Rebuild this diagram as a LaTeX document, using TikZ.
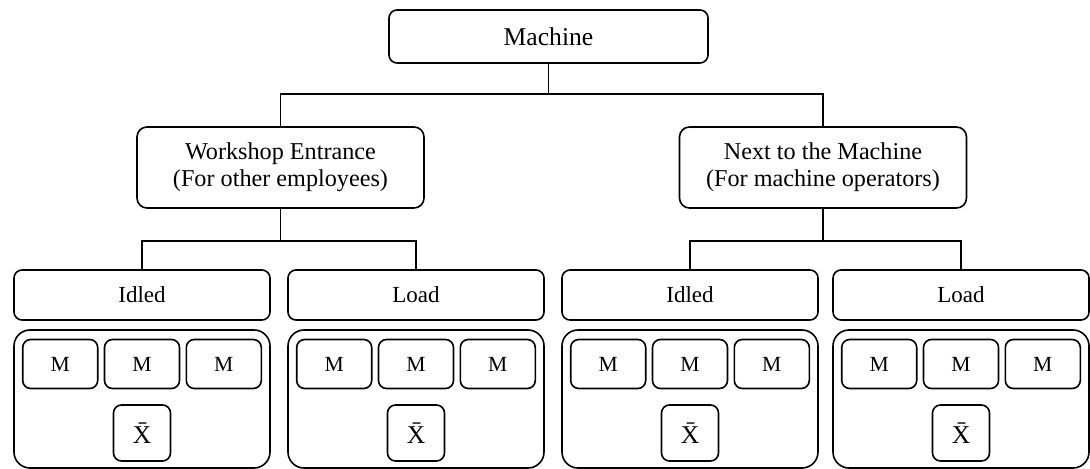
\documentclass[tikz,border=0pt]{standalone}
\usepackage{fontspec}
\setmainfont{Liberation Serif}
\usetikzlibrary{positioning}

\tikzset{
  box/.style={draw, line width=0.8pt, align=center, inner sep=0pt},
  topbox/.style={box, rounded corners=4pt, minimum width=159.5pt, minimum height=26.5pt,
    font=\fontsize{12.8}{14}\selectfont},
  sitebox/.style={box, rounded corners=5pt, minimum width=143.5pt, minimum height=40.5pt,
    font=\fontsize{12.1}{13.5}\selectfont},
  statebox/.style={box, rounded corners=4pt, minimum width=128pt, minimum height=25pt,
    font=\fontsize{11.5}{13}\selectfont},
  groupbox/.style={box, rounded corners=8pt, minimum width=128pt, minimum height=69pt},
  mbox/.style={box, rounded corners=4pt, minimum width=37.5pt, minimum height=24.5pt,
    font=\fontsize{10.8}{12}\selectfont},
  xbox/.style={box, rounded corners=4pt, minimum width=28.5pt, minimum height=28pt,
    font=\fontsize{12.8}{14}\selectfont},
  link/.style={line width=0.8pt}
}

\begin{document}
\begin{tikzpicture}[x=0.5pt,y=-0.5pt]
\useasboundingbox (0,0) rectangle (1090,469);

\node[topbox] (machine) at (548.5,36.5) {Machine};
\node[sitebox] (entrance) at (280.5,167.5) {Workshop Entrance\\(For other employees)};
\node[sitebox] (nextto) at (823,167.5) {Next to the Machine\\(For machine operators)};

% states with their three measurements and the mean
\foreach \name/\x/\txt in {idleA/142/Idled, loadA/416/Load, idleB/690/Idled, loadB/961/Load} {
  \node[statebox] (\name) at (\x,295) {\txt};
  \node[groupbox] (\name-grp) at (\x,399) {};
  \node[mbox] (\name-m2) at (\x,364) {M};
  \node[mbox, left=2.6pt of \name-m2] (\name-m1) {M};
  \node[mbox, right=2.6pt of \name-m2] (\name-m3) {M};
  \node[xbox] (\name-x) at (\x,433) {\={X}};
}

% tree connectors
\draw[link] (machine.south) -- ++(0,30) -| (entrance.north);
\draw[link] (machine.south) -- ++(0,30) -| (nextto.north);
\draw[link] (entrance.south) -- ++(0,32) -| (idleA.north);
\draw[link] (entrance.south) -- ++(0,32) -| (loadA.north);
\draw[link] (nextto.south) -- ++(0,32) -| (idleB.north);
\draw[link] (nextto.south) -- ++(0,32) -| (loadB.north);
\end{tikzpicture}
\end{document}
